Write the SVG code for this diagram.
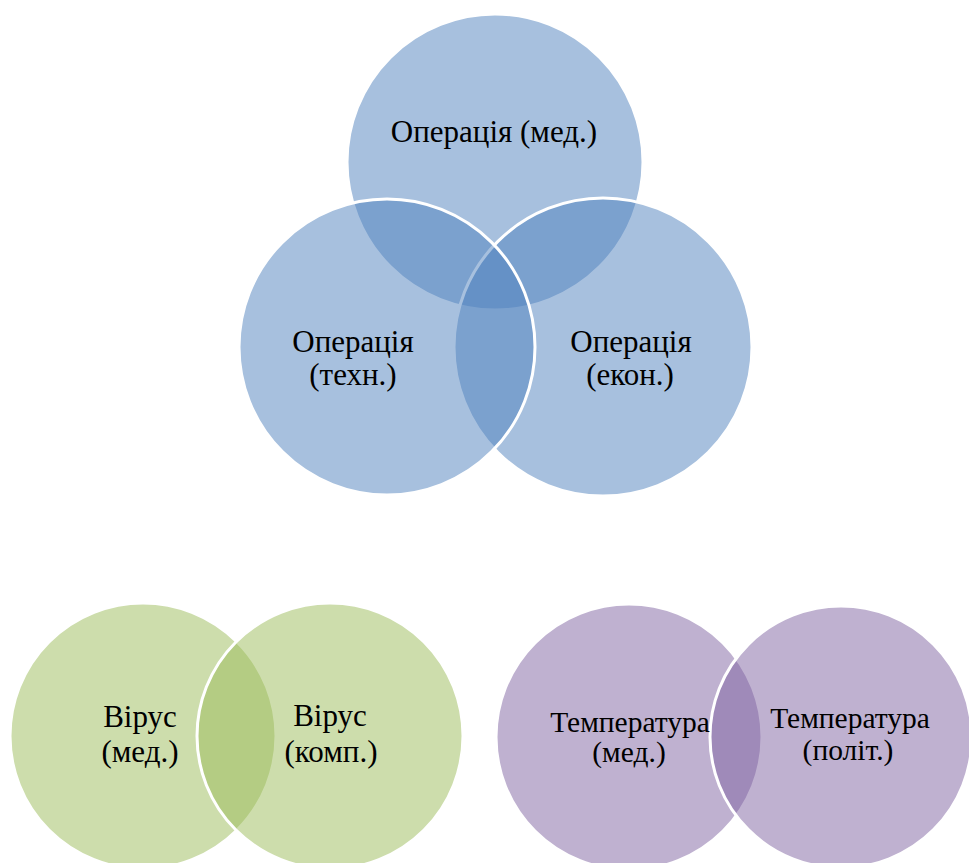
<svg xmlns="http://www.w3.org/2000/svg" width="969" height="863" viewBox="0 0 969 863">
<style>
.c{stroke:#FFFFFF;stroke-width:3;fill-opacity:0.5;stroke-opacity:1}
.b{fill:#4F81BD}
.g{fill:#9BBB59}
.p{fill:#8064A2}
</style>
<rect x="0" y="0" width="969" height="863" fill="#FFFFFF"/>
<g id="op-med"><circle class="c b" cx="495" cy="162" r="148"/></g>
<g id="op-ekon"><circle class="c b" cx="603" cy="347" r="149"/></g>
<g id="op-tekhn"><circle class="c b" cx="387" cy="347" r="148"/></g>
<g id="virus-med"><circle class="c g" cx="143" cy="736" r="133"/></g>
<g id="virus-komp"><circle class="c g" cx="330" cy="736" r="133"/></g>
<g id="temp-med"><circle class="c p" cx="629" cy="737" r="133"/></g>
<g id="temp-polit"><circle class="c p" cx="841" cy="737" r="131"/></g>
<g id="labels" font-family="'Liberation Serif', 'DejaVu Serif', serif" font-size="31" fill="#000000" text-anchor="middle">
<text x="494" y="142">Операція (мед.)</text>
<text x="353" y="352">Операція</text>
<text x="353" y="385">(техн.)</text>
<text x="631" y="352">Операція</text>
<text x="630" y="385">(екон.)</text>
<text x="140" y="727">Вірус</text>
<text x="140" y="762">(мед.)</text>
<text x="330" y="726">Вірус</text>
<text x="331" y="762">(комп.)</text>
<g font-size="29.5">
<text x="630" y="732">Температура</text>
<text x="629" y="762">(мед.)</text>
<text x="850" y="728">Температура</text>
<text x="848" y="760">(політ.)</text>
</g>
</g>
<g id="connectors"></g>
</svg>
